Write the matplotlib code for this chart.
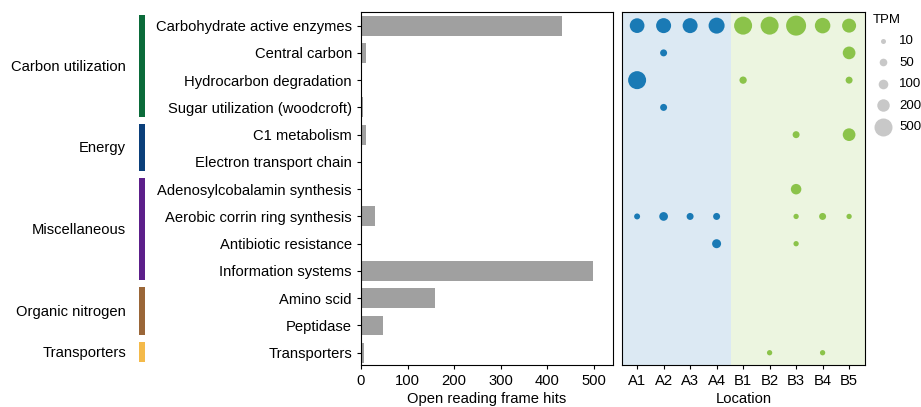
import matplotlib
matplotlib.use('Agg')
import matplotlib.pyplot as plt
import numpy as np

plt.rcParams['font.family'] = ['Liberation Sans', 'DejaVu Sans']
plt.rcParams['font.size'] = 10.6

# Functions (top to bottom) and their open reading frame hits
functions = ['Carbohydrate active enzymes', 'Central carbon', 'Hydrocarbon degradation',
             'Sugar utilization (woodcroft)', 'C1 metabolism', 'Electron transport chain',
             'Adenosylcobalamin synthesis', 'Aerobic corrin ring synthesis',
             'Antibiotic resistance', 'Information systems', 'Amino scid', 'Peptidase',
             'Transporters']
orf_hits = [432, 11, 1, 3.5, 11, 1, 3, 30, 3, 497, 158, 47, 6]

# Functional groups: name, first row, last row, colour
groups = ['Carbon utilization', 'Energy', 'Miscellaneous', 'Organic nitrogen', 'Transporters']
group_first = [0, 4, 6, 10, 12]
group_last = [3, 5, 9, 11, 12]
group_colors = ['#0b6b3a', '#0b3f7a', '#5c1f8a', '#9a6638', '#f4ba4a']

locations = ['A1', 'A2', 'A3', 'A4', 'B1', 'B2', 'B3', 'B4', 'B5']

# TPM per function (row) and location (column); 0 = not detected
tpm = np.array([
    [306, 321, 321, 377, 500, 500, 640, 349, 271],
    [0, 37, 0, 0, 0, 0, 0, 0, 211],
    [500, 0, 0, 0, 43, 0, 0, 0, 37],
    [0, 37, 0, 0, 0, 0, 0, 0, 0],
    [0, 0, 0, 0, 0, 0, 37, 0, 211],
    [0, 0, 0, 0, 0, 0, 0, 0, 0],
    [0, 0, 0, 0, 0, 0, 128, 0, 0],
    [21, 75, 37, 37, 0, 0, 13, 37, 13],
    [0, 0, 0, 82, 0, 0, 13, 0, 0],
    [0, 0, 0, 0, 0, 0, 0, 0, 0],
    [0, 0, 0, 0, 0, 0, 0, 0, 0],
    [0, 0, 0, 0, 0, 0, 0, 0, 0],
    [0, 0, 0, 0, 0, 13, 0, 13, 0],
])
legend_tpm = [10, 50, 100, 200, 500]


def tpm_to_size(v):
    # marker diameter grows with sqrt(TPM); returns scatter area in pt^2
    d_px = 2.86 + 0.677 * np.sqrt(np.asarray(v, dtype=float))
    return (d_px * 0.72) ** 2


W, H = 921, 407
fig = plt.figure(figsize=(W / 100, H / 100), dpi=100)

n = len(functions)
ylim = (n - 1 + 0.45, -0.5)

# group bars on the far left
axg = fig.add_axes([0, 42 / H, 150 / W, 353 / H])
axg.set_xlim(0, 150)
axg.set_ylim(*ylim)
axg.axis('off')
for name, a, b, c in zip(groups, group_first, group_last, group_colors):
    axg.bar(141.5, (b + 0.35) - (a - 0.4), bottom=a - 0.4, width=6, color=c)
    axg.text(126, (a + b) / 2, name, ha='right', va='center')

# bar chart
ax1 = fig.add_axes([361 / W, 42 / H, 252 / W, 353 / H])
y = np.arange(n)
ax1.barh(y, orf_hits, height=0.73, color='#a0a0a0')
ax1.set_ylim(*ylim)
ax1.set_xlim(0, 541)
ax1.set_yticks(y)
ax1.set_yticklabels(functions)
ax1.set_xticks([0, 100, 200, 300, 400, 500])
ax1.set_xlabel('Open reading frame hits', labelpad=3)
ax1.tick_params(length=3, pad=3.5)

# bubble chart
ax2 = fig.add_axes([622 / W, 42 / H, 243 / W, 353 / H])
ax2.set_xlim(-0.57, 8.6)
ax2.set_ylim(*ylim)
ax2.axvspan(-0.57, 3.55, color='#dce9f3', lw=0, zorder=0)
ax2.axvspan(3.55, 8.6, color='#ecf5e0', lw=0, zorder=0)
rows, cols = np.nonzero(tpm)
dot_colors = np.where(cols < 4, '#1a7ab5', '#8bc34a')
ax2.scatter(cols, rows, s=tpm_to_size(tpm[rows, cols]), c=dot_colors, lw=0, zorder=2)
ax2.set_xticks(np.arange(len(locations)))
ax2.set_xticklabels(locations)
ax2.set_yticks([])
ax2.set_xlabel('Location', labelpad=3)
ax2.tick_params(length=3, pad=3.5)

handles = [ax2.scatter([], [], s=tpm_to_size(v), color='#c8c8c8', lw=0) for v in legend_tpm]
leg = ax2.legend(handles, [str(v) for v in legend_tpm], title='TPM', loc='upper left',
                 bbox_to_anchor=(1.0, 1.015), frameon=False, fontsize=9.5, title_fontsize=9.5,
                 labelspacing=0.7, handlelength=1.7, handletextpad=0.35,
                 borderaxespad=0.3, borderpad=0.25)
leg._legend_box.align = 'left'

fig.savefig('out.png', dpi=100)
